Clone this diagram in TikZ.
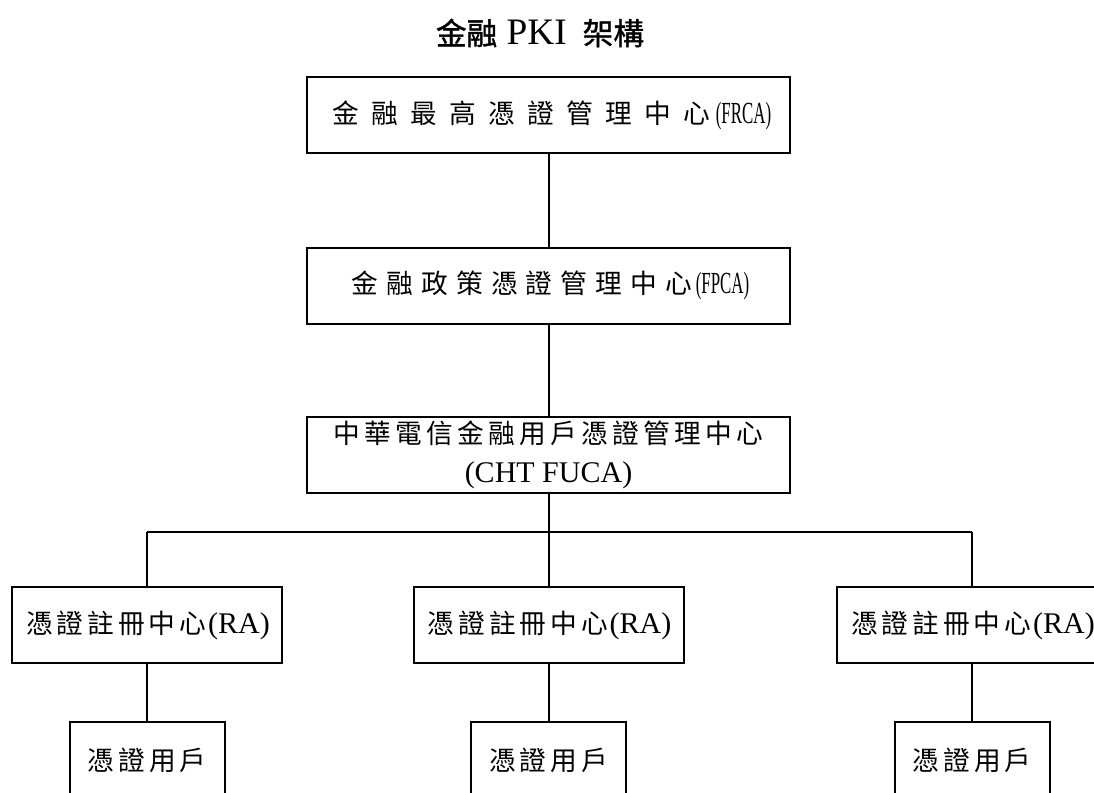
\documentclass[tikz,border=0pt]{standalone}
\usepackage{fontspec}
\setmainfont{Liberation Serif}
\newfontfamily\cjk{Noto Sans CJK TC}
\newfontfamily\cjkb[FakeBold=1.2]{Noto Sans CJK TC}
\newfontfamily\latc[FakeStretch=0.55]{Liberation Serif}
\makeatletter
\newcommand\spreadcjk[2]{\def\spread@w{#1}\spread@loop#2\relax}
\def\spread@loop#1{\ifx\relax#1\else\makebox[\spread@w]{#1}\expandafter\spread@loop\fi}
\makeatother
\tikzset{
  box/.style={draw, line width=1.5pt, inner sep=0pt, minimum height=57pt, align=center, font=\fontsize{20}{29}\selectfont},
  bigbox/.style={box, minimum width=362.25pt},
  rabox/.style={box, minimum width=202.5pt},
  userbox/.style={box, minimum width=116.25pt},
  link/.style={line width=1.5pt}
}
\newcommand\cjkfs{\fontsize{20}{29}\selectfont}
\newcommand\latfs{\fontsize{22.5}{29}\selectfont}
\begin{document}
\begin{tikzpicture}[x=0.75pt,y=-0.75pt]
\useasboundingbox (0,0) rectangle (1094,792);
\clip (0,0) rectangle (1094,792);
\node (title) at (540,33) {{\cjkb\fontsize{23}{28}\selectfont 金融}\hspace{7pt}{\fontsize{28}{28}\selectfont PKI}\hspace{12pt}{\cjkb\fontsize{23}{28}\selectfont 架構}};
\node[bigbox] (frca) at (548.5,115) {{\cjk\cjkfs\spreadcjk{29.25pt}{金融最高憑證管理中心}}{\latc\fontsize{23}{29}\selectfont(FRCA)}};
\node[bigbox] (fpca) at (548.5,285.5) {{\cjk\cjkfs\spreadcjk{26.1pt}{金融政策憑證管理中心}}{\latc\fontsize{23}{29}\selectfont(FPCA)}};
\node[bigbox] (fuca) at (548.5,455) {{\cjk\cjkfs\spreadcjk{23.25pt}{中華電信金融用戶憑證管理中心}}\\{\latfs(CHT FUCA)}};
\node[rabox] (ra1) at (147,625) {{\cjk\cjkfs\spreadcjk{23pt}{憑證註冊中心}}{\latfs(RA)}};
\node[rabox] (ra2) at (548.5,625) {{\cjk\cjkfs\spreadcjk{23pt}{憑證註冊中心}}{\latfs(RA)}};
\node[rabox] (ra3) at (972,625) {{\cjk\cjkfs\spreadcjk{23pt}{憑證註冊中心}}{\latfs(RA)}};
\node[userbox] (u1) at (147,760) {{\cjk\cjkfs\spreadcjk{23pt}{憑證用戶}}};
\node[userbox] (u2) at (548.5,760) {{\cjk\cjkfs\spreadcjk{23pt}{憑證用戶}}};
\node[userbox] (u3) at (972,760) {{\cjk\cjkfs\spreadcjk{23pt}{憑證用戶}}};
\coordinate (busL) at (147,532);
\coordinate (busM) at (548.5,532);
\coordinate (busR) at (972,532);
\draw[link] (frca) -- (fpca);
\draw[link] (fpca) -- (fuca);
\draw[link] (fuca.south) -- (busM);
\draw[link] (busL) -- (busR);
\draw[link] (busL) -- (ra1.north);
\draw[link] (busM) -- (ra2.north);
\draw[link] (busR) -- (ra3.north);
\draw[link] (ra1) -- (u1);
\draw[link] (ra2) -- (u2);
\draw[link] (ra3) -- (u3);
\end{tikzpicture}
\end{document}
